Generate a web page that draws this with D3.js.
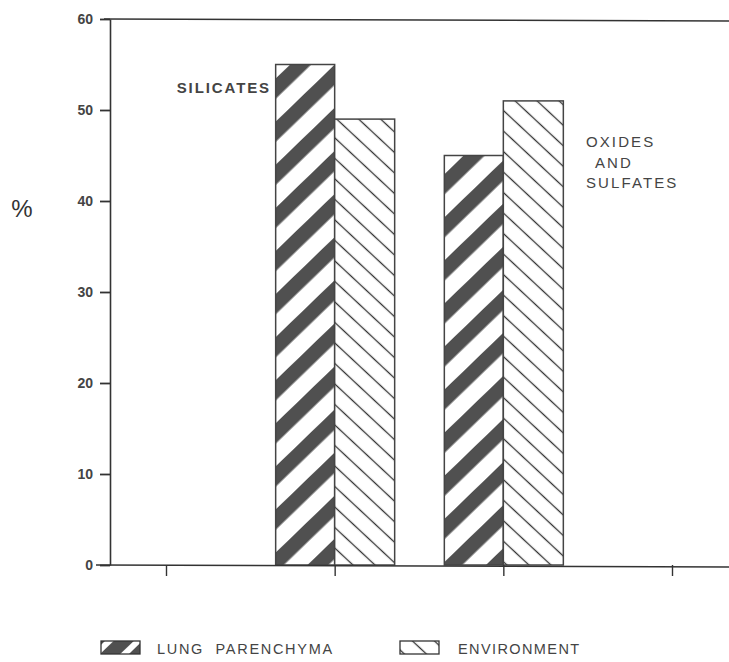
<!DOCTYPE html>
<html><head><meta charset="utf-8">
<script src="https://cdn.jsdelivr.net/npm/d3@7"></script>
<style>
html,body{margin:0;padding:0;background:#fff;}
svg{display:block;font-family:"Liberation Sans",Arial,sans-serif;}
</style></head>
<body>
<script>
// ---- data ----
const categories = ["SILICATES", "OXIDES AND SULFATES"];
const seriesNames = ["LUNG  PARENCHYMA", "ENVIRONMENT"];
const lungValues = [55, 45];
const envValues = [49, 51];
const yTicks = [0, 10, 20, 30, 40, 50, 60];
const xTickSlots = [0, 1, 2, 3];

const W = 729, H = 662;
const svg = d3.select("body").append("svg").attr("width", W).attr("height", H);
const defs = svg.append("defs");

// patterns
function stripePattern(id, period, fillFrac, angle, color) {
  const p = defs.append("pattern").attr("id", id)
    .attr("patternUnits", "userSpaceOnUse")
    .attr("width", 10).attr("height", period)
    .attr("patternTransform", `rotate(${angle})`);
  p.append("rect").attr("width", 10).attr("height", period).attr("fill", "#fff");
  p.append("rect").attr("y", 0).attr("width", 10).attr("height", period * fillFrac).attr("fill", color);
}
function linePattern(id, period, angle, color, sw) {
  const p = defs.append("pattern").attr("id", id)
    .attr("patternUnits", "userSpaceOnUse")
    .attr("width", 10).attr("height", period)
    .attr("patternTransform", `rotate(${angle})`);
  p.append("rect").attr("width", 10).attr("height", period).attr("fill", "#fff");
  p.append("line").attr("x1", 0).attr("x2", 10).attr("y1", period / 2).attr("y2", period / 2)
    .attr("stroke", color).attr("stroke-width", sw);
}
stripePattern("lung", 31, 0.47, -44, "#505050");
linePattern("env", 15, 43, "#333", 1.3);
stripePattern("lungLeg", 20, 0.7, -44, "#505050");
linePattern("envLeg", 15, 43, "#333", 1.3);

const y = d3.scaleLinear().domain([0, 60]).range([565, 19]);
const x = d3.scaleLinear().domain([0, 3]).range([166, 672]);
const bw = 59;

// top line (frame at 60)
svg.append("line").attr("x1", 104).attr("x2", W).attr("y1", y(60)).attr("y2", y(60) + 2)
  .attr("stroke", "#333").attr("stroke-width", 1.6);

// bars
const g = svg.append("g");
categories.forEach((c, i) => {
  const cx = x(i + 1);
  g.append("rect").attr("x", cx - bw).attr("y", y(lungValues[i]))
    .attr("width", bw).attr("height", y(0) - y(lungValues[i]))
    .attr("fill", "url(#lung)").attr("stroke", "#444").attr("stroke-width", 1.5);
  g.append("rect").attr("x", cx).attr("y", y(envValues[i]))
    .attr("width", bw + 1).attr("height", y(0) - y(envValues[i]))
    .attr("fill", "url(#env)").attr("stroke", "#444").attr("stroke-width", 1.5);
});

// y axis
const yAxis = d3.axisLeft(y).tickValues(yTicks).tickSize(10).tickSizeOuter(0).tickPadding(7);
const ya = svg.append("g").attr("transform", "translate(110,0)").call(yAxis);
ya.select(".domain").attr("stroke", "#333").attr("stroke-width", 1.6);
ya.selectAll(".tick line").attr("stroke", "#333").attr("stroke-width", 1.8);
ya.selectAll(".tick text").attr("font-size", 14).attr("font-weight", "bold")
  .attr("fill", "#444").attr("font-family", "Liberation Sans, Arial, sans-serif");

// x axis
const xAxis = d3.axisBottom(x).tickValues(xTickSlots).tickSize(11).tickSizeOuter(0).tickFormat(() => "");
const xa = svg.append("g").attr("transform", `translate(0,${y(0)})`).call(xAxis);
xa.select(".domain").remove();
xa.selectAll(".tick line").attr("stroke", "#333").attr("stroke-width", 1.4);
svg.append("line").attr("x1", 96).attr("x2", W).attr("y1", y(0)).attr("y2", y(0) + 2)
  .attr("stroke", "#333").attr("stroke-width", 1.6);

// y label
svg.append("text").attr("x", 22).attr("y", 217).attr("text-anchor", "middle")
  .attr("font-size", 24).attr("fill", "#333").text("%");

// category labels
svg.append("text").attr("x", 271).attr("y", 93).attr("text-anchor", "end")
  .attr("font-size", 15).attr("font-weight", "bold").attr("letter-spacing", 1.9)
  .attr("fill", "#444").text(categories[0]);
const ox = svg.append("text").attr("font-size", 15).attr("fill", "#444").attr("letter-spacing", 2.1);
ox.append("tspan").attr("x", 586).attr("y", 147).text("OXIDES");
ox.append("tspan").attr("x", 595).attr("y", 168).text("AND");
ox.append("tspan").attr("x", 586).attr("y", 188).text("SULFATES");

// legend
const legX = [101, 400];
const legTextX = [157, 458];
const legPat = ["url(#lungLeg)", "url(#envLeg)"];
seriesNames.forEach((s, i) => {
  svg.append("rect").attr("x", legX[i]).attr("y", 641).attr("width", 39).attr("height", 13)
    .attr("fill", legPat[i]).attr("stroke", "#333").attr("stroke-width", 1.3);
  svg.append("text").attr("x", legTextX[i]).attr("y", 654)
    .attr("font-size", 14.5).attr("letter-spacing", i ? 1.4 : 1.7).attr("fill", "#444")
    .style("white-space", "pre").text(s);
});
</script>
</body></html>
